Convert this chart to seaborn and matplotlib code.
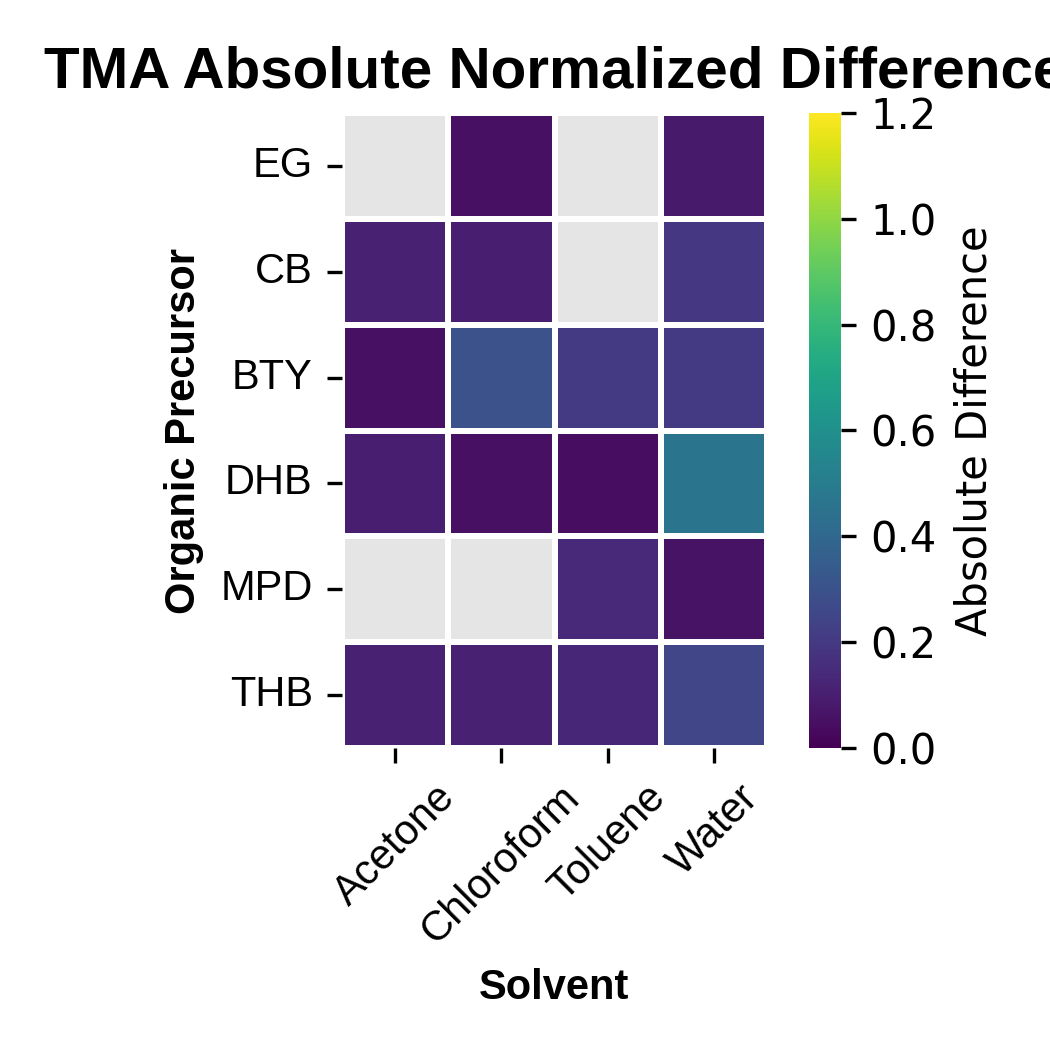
import numpy as np
import pandas as pd
import matplotlib
matplotlib.use("Agg")
import matplotlib.pyplot as plt
import seaborn as sns

precursors = ["EG", "CB", "BTY", "DHB", "MPD", "THB"]
solvents = ["Acetone", "Chloroform", "Toluene", "Water"]

acetone = [np.nan, 0.11, 0.05, 0.10, np.nan, 0.11]
chloroform = [0.05, 0.10, 0.30, 0.05, np.nan, 0.11]
toluene = [np.nan, np.nan, 0.20, 0.04, 0.14, 0.13]
water = [0.08, 0.19, 0.20, 0.46, 0.06, 0.25]

df = pd.DataFrame({"Acetone": acetone, "Chloroform": chloroform,
                   "Toluene": toluene, "Water": water}, index=precursors)

arial = "Liberation Sans"
plt.rcParams["font.family"] = ["DejaVu Sans"]

fig = plt.figure(figsize=(3.5, 3.5), dpi=300)
W = H = 1050.0
ax = fig.add_axes([342 / W, 1 - 748 / H, (767 - 342) / W, (748 - 113) / H])
cax = fig.add_axes([809 / W, 1 - 748 / H, (841 - 809) / W, (748 - 113) / H])
ax.set_facecolor("#e5e5e5")

sns.heatmap(df, ax=ax, cbar_ax=cax, cmap="viridis", vmin=0, vmax=1.2,
            linewidths=1, linecolor="white",
            cbar_kws={"label": "Absolute Difference", "ticks": [0, 0.2, 0.4, 0.6, 0.8, 1.0, 1.2]})

ax.set_title("TMA Absolute Normalized Difference", fontsize=14, fontweight="bold",
             family=arial)
ax.set_xlabel("Solvent", fontsize=10, fontweight="bold", family=arial)
ax.set_ylabel("Organic Precursor", fontsize=10, fontweight="bold", family=arial)
ax.set_xticklabels(solvents, rotation=45, ha="center", fontsize=10, family=arial)
ax.set_yticklabels(precursors, rotation=0, fontsize=10, family=arial)
ax.tick_params(axis="both", length=3.5, width=0.8)

cax.tick_params(labelsize=10, length=3.5, width=0.8)
cax.set_yticklabels(["0.0", "0.2", "0.4", "0.6", "0.8", "1.0", "1.2"])
cax.yaxis.label.set_size(10)

fig.savefig("out.png", dpi=300)
